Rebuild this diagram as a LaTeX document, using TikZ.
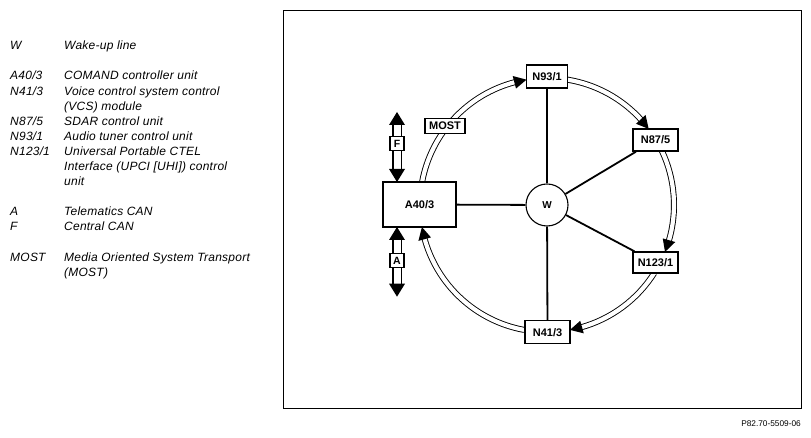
\documentclass[tikz,border=0pt]{standalone}
\usepackage{fontspec}
\setmainfont{Liberation Sans}
\newfontfamily\legfont[LetterSpace=2]{Liberation Sans}
\begin{document}
\begin{tikzpicture}[x=1pt,y=1pt,
  box/.style={draw, line width=1.4pt, fill=white, inner sep=0pt,
    font=\bfseries\fontsize{11}{13}\selectfont},
  smallbox/.style={draw, line width=1.2pt, fill=white, inner sep=0pt,
    minimum width=14pt, minimum height=14pt,
    font=\bfseries\fontsize{10.5}{12}\selectfont},
  wline/.style={line width=1.8pt},
  ring/.style={line width=0.9pt, double=white, double distance=4.2pt},
  bus/.style={line width=1.2pt, double=white, double distance=7pt},
  leg/.style={anchor=base west, inner sep=0pt,
    font=\legfont\itshape\fontsize{12}{14}\selectfont}]
\useasboundingbox (0,0) rectangle (811,438);
% frame
\draw[line width=0.8pt] (283,30) rectangle (801,428);
\coordinate (c) at (547,233);
% MOST ring (clockwise)
\foreach \s/\e in {169.6/99.3, 80.7/36.8, 25.2/-21.7, -32.4/-79.6, -100.4/-170} {
  \pgfmathsetmacro\b{\e+5.0}
  \pgfmathsetmacro\t{\e+5.6}
  \draw[ring] ([shift={(c)}]\s:127pt) arc[start angle=\s, end angle=\b, radius=127pt];
  \fill ([shift={(c)}]\e:127pt) -- ([shift={(c)}]\t:133.5pt) -- ([shift={(c)}]\t:120.5pt) -- cycle;
}
% nodes
\node[circle, draw, line width=1.1pt, minimum size=42pt, inner sep=0pt, fill=white,
  font=\bfseries\fontsize{10}{12}\selectfont] (w) at (c) {W};
\node[box, minimum width=73pt, minimum height=45pt] (a40) at (419.5,233.5) {A40/3};
\node[box, minimum width=41pt, minimum height=23pt] (n93) at (547,361.5) {N93/1};
\node[box, minimum width=45pt, minimum height=22pt] (n87) at (655.5,298) {N87/5};
\node[box, minimum width=45pt, minimum height=21pt] (n123) at (655.5,175.5) {N123/1};
\node[box, minimum width=45pt, minimum height=23pt] (n41) at (547.5,105.7) {N41/3};
\node[box, line width=1.2pt, minimum width=40pt, minimum height=15pt] (most) at (445,312) {MOST};
% wake-up lines
\draw[wline] (w) -- (n93);
\draw[wline] (w) -- (n87);
\draw[wline] (w) -- (n123);
\draw[wline] (w) -- (n41);
\draw[wline] (w) -- (a40);
% CAN buses
\coordinate (ftop) at (397,326);
\coordinate (fbot) at (397,256);
\coordinate (atop) at (397,211);
\coordinate (abot) at (397,141.3);
\draw[bus] ([yshift=-12pt]ftop) -- ([yshift=12pt]fbot);
\fill (ftop) -- ++(-8,-13) -- ++(16,0) -- cycle;
\fill (fbot) -- ++(-8,13) -- ++(16,0) -- cycle;
\draw[bus] ([yshift=-12pt]atop) -- ([yshift=12pt]abot);
\fill (atop) -- ++(-8,-13) -- ++(16,0) -- cycle;
\fill (abot) -- ++(-8,13) -- ++(16,0) -- cycle;
\node[smallbox] (flab) at (397,294.5) {F};
\node[smallbox] (alab) at (397,177.5) {A};
% legend
\foreach \k/\a/\b in {0/W/{Wake-up line},
  2/A40\slash 3/{COMAND controller unit},
  3/N41\slash 3/{Voice control system control},
  4/{}/{(VCS) module},
  5/N87\slash 5/{SDAR control unit},
  6/N93\slash 1/{Audio tuner control unit},
  7/N123\slash 1/{Universal Portable CTEL},
  8/{}/{Interface (UPCI [UHI]) control},
  9/{}/{unit},
  11/A/{Telematics CAN},
  12/F/{Central CAN},
  14/MOST/{Media Oriented System Transport},
  15/{}/{(MOST)}} {
  \pgfmathsetmacro\yy{438-49.8-15.1*\k}
  \node[leg] (ka\k) at (10,\yy) {\a};
  \node[leg] (kb\k) at (64,\yy) {\b};
}
% footer
\node[anchor=base east, inner sep=0pt, font=\fontsize{8.3}{10}\selectfont] (code) at (801,11) {P82.70-5509-06};
\end{tikzpicture}
\end{document}
